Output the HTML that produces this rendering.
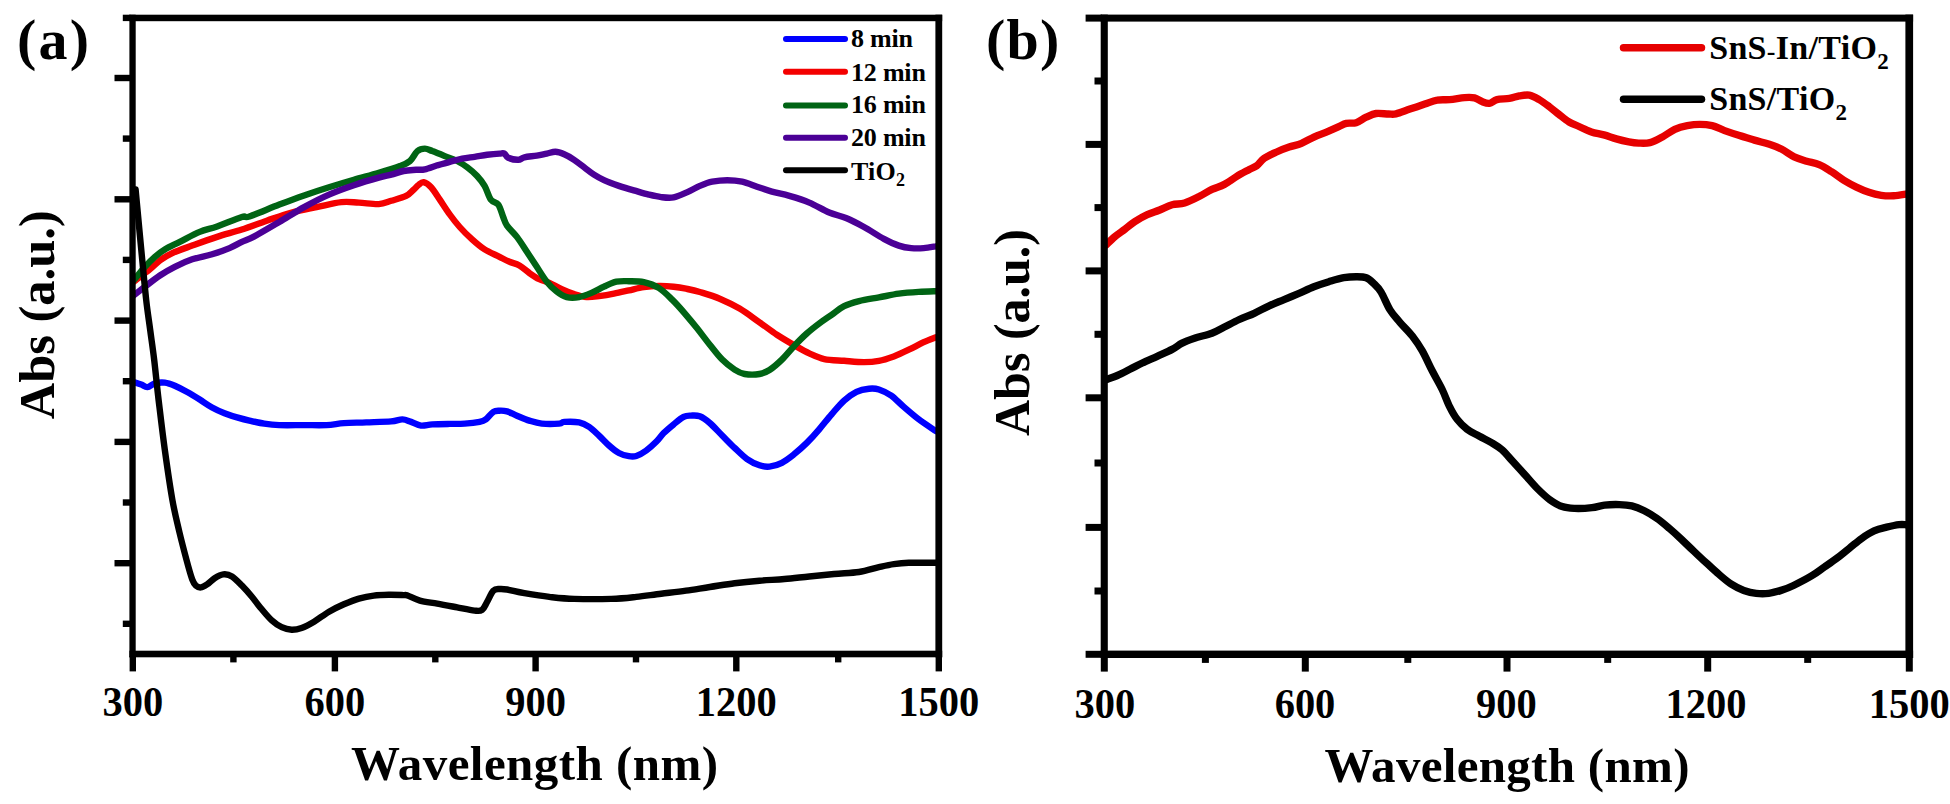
<!DOCTYPE html>
<html lang="en"><head><meta charset="utf-8"><title>Absorbance spectra</title>
<style>html,body{margin:0;padding:0;background:#fff;overflow:hidden}svg{display:block}text{font-family:"Liberation Serif","DejaVu Serif",serif;font-weight:bold;fill:#000}.c{fill:none;stroke-linecap:round;stroke-linejoin:round}</style></head><body>
<svg width="1950" height="804" viewBox="0 0 1950 804">
<rect width="1950" height="804" fill="#fff"/>
<path class="c" stroke="#0000ff" stroke-width="6.4" d="M133.7 382.1C134.9 382.5 138.9 383.8 141.2 384.6C143.5 385.4 145.1 387.3 147.4 387.1C149.7 386.9 152.0 384.1 154.9 383.3C157.8 382.6 161.5 382.2 164.8 382.6C168.1 383.0 171.1 384.2 174.8 385.8C178.5 387.4 183.0 389.7 187.2 392.0C191.3 394.3 195.5 396.9 199.7 399.5C203.8 402.1 208.0 405.2 212.1 407.5C216.2 409.8 220.3 411.6 224.5 413.2C228.7 414.8 232.8 416.2 237.0 417.4C241.2 418.6 244.8 419.6 249.4 420.6C254.0 421.6 259.3 422.9 264.3 423.6C269.3 424.4 272.7 424.9 279.3 425.1C285.9 425.4 296.2 425.1 304.1 425.1C312.0 425.1 319.9 425.4 326.5 425.1C333.1 424.8 337.3 423.6 343.9 423.1C350.5 422.7 358.4 422.7 366.3 422.4C374.2 422.1 385.2 421.9 391.2 421.4C397.2 420.9 399.1 419.3 402.4 419.4C405.7 419.5 408.0 420.9 411.1 421.9C414.2 422.9 417.5 425.2 421.0 425.6C424.5 426.0 427.5 424.7 432.3 424.4C437.1 424.1 444.4 424.0 449.8 423.9C455.2 423.8 459.7 423.9 464.7 423.6C469.7 423.3 476.1 422.6 479.6 421.9C483.1 421.2 483.5 421.1 485.8 419.4C488.1 417.7 491.0 413.3 493.3 411.9C495.6 410.4 497.2 410.8 499.5 410.7C501.8 410.6 504.1 410.6 507.0 411.4C509.9 412.2 513.2 414.2 516.9 415.7C520.6 417.2 525.2 419.3 529.4 420.6C533.5 421.9 536.8 423.1 541.8 423.6C546.8 424.1 555.5 423.9 559.2 423.6C562.9 423.3 560.9 422.1 564.2 421.9C567.5 421.7 575.0 421.6 579.1 422.4C583.2 423.2 585.8 424.7 589.1 426.9C592.4 429.1 595.7 432.5 599.0 435.6C602.3 438.7 605.7 442.6 609.0 445.5C612.3 448.4 615.6 451.2 618.9 453.0C622.2 454.8 626.0 455.7 628.9 456.2C631.8 456.7 633.4 456.9 636.3 456.0C639.2 455.1 643.0 452.9 646.3 450.5C649.6 448.1 653.3 444.7 656.2 441.8C659.1 438.9 660.8 436.0 663.7 433.1C666.6 430.2 670.3 427.1 673.6 424.4C676.9 421.7 680.7 418.4 683.6 416.9C686.5 415.4 688.3 415.7 691.0 415.6C693.7 415.5 696.7 415.1 699.8 416.3C702.9 417.5 706.1 419.8 709.8 423.0C713.5 426.2 718.1 431.4 722.2 435.5C726.3 439.6 730.5 444.0 734.6 447.9C738.8 451.8 743.0 456.2 747.1 459.1C751.2 462.0 755.8 464.1 759.5 465.3C763.2 466.6 765.8 467.0 769.5 466.6C773.2 466.2 777.8 464.9 781.9 462.8C786.0 460.7 790.1 457.4 794.3 454.1C798.4 450.8 802.6 447.0 806.8 442.9C810.9 438.8 815.1 434.1 819.2 429.3C823.3 424.5 827.5 419.1 831.6 414.3C835.8 409.5 840.0 404.3 844.1 400.6C848.2 396.9 852.4 393.9 856.5 391.9C860.6 389.9 865.3 389.1 869.0 388.7C872.7 388.3 875.2 388.3 878.9 389.5C882.6 390.7 887.1 392.8 891.3 395.7C895.4 398.6 899.2 403.0 903.8 406.9C908.4 410.8 913.3 415.2 918.7 419.3C924.1 423.4 933.1 429.2 936.0 431.2"/>
<path class="c" stroke="#f40000" stroke-width="6.4" d="M133.7 281.7C136.4 279.6 145.5 272.8 149.9 269.3C154.3 265.8 156.2 263.2 159.9 260.5C163.6 257.8 166.9 255.6 172.3 253.1C177.7 250.6 184.7 248.3 192.2 245.6C199.7 242.9 208.8 239.6 217.1 236.9C225.4 234.2 233.6 232.2 241.9 229.5C250.2 226.8 258.5 223.5 266.8 220.7C275.1 217.9 283.4 214.8 291.7 212.5C300.0 210.2 308.3 208.8 316.6 207.1C324.9 205.4 334.3 202.8 341.4 202.1C348.4 201.3 352.7 202.3 358.9 202.6C365.1 202.9 373.4 204.4 378.8 204.1C384.2 203.8 386.6 202.2 391.2 200.8C395.8 199.4 402.4 197.8 406.1 195.9C409.8 194.1 411.5 191.5 413.6 189.7C415.7 187.9 416.8 186.2 418.5 185.0C420.2 183.8 421.5 181.8 423.6 182.2C425.7 182.6 428.4 184.3 431.1 187.2C433.8 190.1 436.7 195.0 439.8 199.6C442.9 204.2 446.5 209.9 449.8 214.5C453.1 219.1 456.0 222.8 459.7 227.0C463.4 231.2 468.0 235.7 472.1 239.4C476.2 243.1 480.0 246.5 484.6 249.4C489.2 252.3 495.4 254.7 499.5 256.8C503.6 258.9 506.2 260.4 509.5 261.8C512.8 263.2 516.1 263.6 519.4 265.5C522.7 267.4 526.1 270.7 529.4 273.0C532.7 275.3 536.0 277.6 539.3 279.2C542.6 280.8 545.6 281.2 549.3 282.9C553.0 284.6 557.6 287.3 561.7 289.2C565.8 291.1 570.0 292.8 574.1 294.1C578.2 295.4 582.5 296.8 586.6 297.1C590.8 297.4 594.5 296.7 599.0 296.1C603.5 295.5 608.9 294.6 613.9 293.6C618.9 292.7 623.9 291.5 628.9 290.4C633.9 289.3 638.8 287.9 643.8 287.2C648.8 286.4 653.7 286.0 658.7 285.9C663.7 285.8 669.1 286.2 673.6 286.7C678.1 287.2 681.6 287.8 686.0 288.7C690.4 289.6 694.2 290.3 699.8 292.0C705.4 293.7 713.1 295.9 719.7 298.7C726.3 301.5 733.0 304.7 739.6 308.6C746.2 312.5 753.3 318.0 759.5 322.3C765.7 326.6 771.1 330.9 776.9 334.7C782.7 338.5 788.9 342.1 794.3 345.2C799.7 348.3 804.3 351.1 809.3 353.4C814.3 355.7 818.4 357.9 824.2 359.1C830.0 360.3 837.5 360.3 844.1 360.8C850.7 361.3 858.2 362.1 864.0 362.1C869.8 362.1 873.9 361.8 878.9 360.8C883.9 359.9 888.8 358.2 893.8 356.4C898.8 354.5 903.8 352.1 908.8 349.7C913.8 347.3 919.2 344.3 923.7 342.2C928.2 340.1 934.0 338.0 936.0 337.2"/>
<path class="c" stroke="#006414" stroke-width="6.4" d="M133.7 280.4C135.6 278.1 141.4 270.7 144.9 266.8C148.4 262.9 151.6 259.7 154.9 256.8C158.2 253.9 160.7 251.9 164.8 249.4C169.0 246.9 174.0 244.8 179.8 241.9C185.6 239.0 193.5 234.5 199.7 231.9C205.9 229.3 210.1 229.0 217.1 226.5C224.1 224.0 236.5 218.7 241.9 217.0C247.3 215.3 243.2 218.6 249.4 216.5C255.6 214.4 270.2 208.1 279.3 204.6C288.4 201.1 295.8 198.3 304.1 195.4C312.4 192.5 320.7 189.8 329.0 187.2C337.3 184.6 345.6 182.1 353.9 179.7C362.2 177.3 371.1 175.0 378.8 172.7C386.5 170.4 394.8 167.9 400.0 166.0C405.2 164.1 407.1 163.5 410.0 161.0C412.9 158.5 414.9 153.2 417.4 151.1C419.9 149.0 422.4 148.6 424.9 148.6C427.4 148.6 429.0 149.8 432.3 151.1C435.6 152.3 440.7 154.4 444.8 156.1C448.9 157.8 453.5 159.1 457.2 161.0C460.9 162.9 463.9 164.8 467.2 167.3C470.5 169.8 474.2 172.9 477.1 176.0C480.0 179.1 482.3 182.0 484.6 185.9C486.9 189.8 488.5 196.5 490.8 199.6C493.1 202.7 496.2 201.7 498.3 204.6C500.4 207.5 501.8 213.5 503.2 217.0C504.6 220.5 504.7 222.4 507.0 225.7C509.3 229.0 513.6 232.6 516.9 236.9C520.2 241.2 523.6 246.8 526.9 251.8C530.2 256.8 533.5 261.8 536.8 266.8C540.1 271.8 543.5 277.6 546.8 281.7C550.1 285.8 553.4 289.0 556.7 291.6C560.0 294.2 563.0 296.2 566.7 297.1C570.4 298.0 575.0 297.8 579.1 297.1C583.2 296.4 587.4 294.6 591.5 292.9C595.6 291.2 599.9 288.6 604.0 286.7C608.1 284.8 612.2 282.6 616.4 281.7C620.5 280.8 624.3 281.1 628.9 281.2C633.5 281.3 638.8 281.1 643.8 282.2C648.8 283.3 653.9 284.9 658.7 287.9C663.5 290.8 668.0 295.6 672.4 299.9C676.8 304.2 680.8 308.8 684.9 313.6C689.0 318.4 693.1 323.3 697.3 328.5C701.4 333.7 705.6 339.5 709.8 344.7C713.9 349.9 718.1 355.5 722.2 359.6C726.3 363.8 730.9 367.2 734.6 369.6C738.3 372.0 740.5 373.3 744.6 374.0C748.8 374.7 755.4 374.7 759.5 374.0C763.6 373.3 765.8 372.4 769.5 370.0C773.2 367.6 777.8 363.6 781.9 359.6C786.0 355.6 790.1 350.2 794.3 345.9C798.4 341.5 802.6 337.2 806.8 333.5C810.9 329.8 815.1 326.6 819.2 323.5C823.3 320.4 827.5 317.7 831.6 314.8C835.8 311.9 839.5 308.4 844.1 306.1C848.7 303.8 853.2 302.6 859.0 301.1C864.8 299.7 872.3 298.6 878.9 297.4C885.5 296.2 892.2 294.6 898.8 293.7C905.4 292.8 912.5 292.3 918.7 291.9C924.9 291.5 933.1 291.3 936.0 291.2"/>
<path class="c" stroke="#4b0096" stroke-width="6.4" d="M133.7 295.4C135.6 293.9 140.5 290.0 144.9 286.7C149.3 283.4 154.9 278.8 159.9 275.5C164.9 272.2 169.4 269.5 174.8 266.8C180.2 264.1 186.0 261.4 192.2 259.3C198.4 257.2 205.9 256.2 212.1 254.3C218.3 252.4 224.5 250.2 229.5 248.1C234.5 246.0 237.8 243.8 241.9 241.9C246.1 240.0 248.2 239.7 254.4 236.4C260.6 233.1 271.0 226.9 279.3 222.0C287.6 217.1 295.8 211.7 304.1 207.1C312.4 202.5 320.7 198.2 329.0 194.6C337.3 190.9 345.6 188.0 353.9 185.2C362.2 182.4 372.6 179.4 378.8 177.7C385.0 175.9 387.1 175.8 391.2 174.7C395.3 173.6 399.5 171.8 403.6 171.0C407.8 170.2 412.6 170.1 416.1 169.8C419.7 169.5 421.4 170.1 424.9 169.3C428.4 168.6 433.1 166.6 437.3 165.3C441.5 164.1 445.7 162.9 449.8 161.8C453.9 160.7 458.1 159.4 462.2 158.6C466.3 157.8 470.5 157.4 474.6 156.8C478.8 156.2 483.0 155.3 487.1 154.8C491.2 154.3 496.6 153.8 499.5 153.6C502.4 153.4 503.1 152.9 504.5 153.6C505.9 154.3 505.9 156.8 508.2 157.8C510.5 158.8 515.5 159.9 518.2 159.8C520.9 159.7 521.3 158.0 524.4 157.3C527.5 156.6 533.1 156.2 536.8 155.6C540.5 155.0 543.7 154.2 546.8 153.6C549.9 153.0 552.6 151.7 555.5 151.8C558.4 151.9 561.1 153.0 564.2 154.3C567.3 155.6 570.8 157.6 574.1 159.8C577.4 162.0 580.8 164.8 584.1 167.3C587.4 169.8 590.7 172.5 594.0 174.7C597.3 176.8 599.9 178.3 604.0 180.2C608.1 182.1 613.9 184.2 618.9 185.9C623.9 187.6 628.8 189.0 633.8 190.4C638.8 191.8 644.2 193.5 648.8 194.6C653.4 195.7 657.1 196.6 661.2 197.1C665.3 197.6 669.2 198.2 673.6 197.4C678.0 196.6 683.0 194.0 687.4 192.1C691.8 190.2 695.7 187.6 699.8 185.9C703.9 184.2 707.6 182.6 712.2 181.7C716.8 180.8 722.2 180.2 727.2 180.2C732.2 180.2 737.1 180.6 742.1 181.7C747.1 182.8 752.0 185.0 757.0 186.7C762.0 188.3 766.5 190.1 771.9 191.6C777.3 193.1 783.2 194.1 789.4 195.9C795.6 197.7 802.7 199.8 809.3 202.6C815.9 205.4 823.0 209.9 829.2 212.5C835.4 215.1 840.8 215.9 846.6 218.3C852.4 220.7 857.8 223.6 864.0 227.0C870.2 230.4 878.1 235.8 883.9 238.9C889.7 242.0 894.2 244.1 898.8 245.6C903.3 247.1 907.1 247.7 911.2 248.1C915.4 248.5 919.6 248.4 923.7 248.1C927.8 247.8 934.0 246.6 936.0 246.3"/>
<path class="c" stroke="#000" stroke-width="6.4" d="M135.6 189.5C136.7 201.2 140.4 241.1 142.2 259.5C144.0 277.9 144.9 288.2 146.2 300.0C147.5 311.8 148.9 320.0 150.2 330.0C151.5 340.0 152.8 348.3 154.2 360.0C155.6 371.7 156.8 385.0 158.6 400.0C160.4 415.0 162.5 433.2 164.8 449.8C167.1 466.4 169.9 485.8 172.3 499.5C174.7 513.2 177.1 522.1 179.4 532.1C181.8 542.1 184.3 551.6 186.4 559.5C188.5 567.4 190.6 575.0 192.2 579.4C193.8 583.8 194.4 584.3 195.9 585.6C197.4 586.9 199.0 587.6 200.9 587.4C202.8 587.2 204.8 585.9 207.1 584.4C209.4 582.9 211.9 579.9 214.6 578.2C217.3 576.5 220.4 574.7 223.3 574.4C226.2 574.1 228.9 574.5 232.0 576.4C235.1 578.3 238.6 582.2 241.9 585.6C245.2 589.0 248.6 592.8 251.9 596.8C255.2 600.8 258.5 605.4 261.8 609.3C265.1 613.2 268.5 617.4 271.8 620.4C275.1 623.4 278.4 625.7 281.7 627.2C285.0 628.8 288.4 629.6 291.7 629.7C295.0 629.8 297.9 629.2 301.6 627.9C305.3 626.6 309.5 624.4 314.1 621.7C318.7 619.0 324.0 614.6 329.0 611.7C334.0 608.8 338.9 606.5 343.9 604.3C348.9 602.1 353.9 600.0 358.9 598.6C363.9 597.2 368.8 596.2 373.8 595.6C378.8 595.0 383.7 594.9 388.7 594.8C393.7 594.7 400.5 595.0 403.6 595.1C406.7 595.2 404.8 594.6 407.5 595.5C410.2 596.4 414.9 599.2 419.9 600.6C424.9 602.0 431.1 602.5 437.3 603.6C443.5 604.7 451.0 606.2 457.2 607.4C463.4 608.6 470.5 610.2 474.6 610.6C478.8 611.0 480.0 611.4 482.1 609.9C484.2 608.4 485.2 605.1 487.1 601.9C489.0 598.7 491.2 592.9 493.3 590.7C495.4 588.6 497.2 589.2 499.5 589.0C501.8 588.8 502.9 588.8 507.0 589.5C511.1 590.2 517.4 592.0 524.4 593.2C531.4 594.4 541.0 596.0 549.3 596.9C557.6 597.8 563.8 598.6 574.1 598.9C584.5 599.2 601.0 599.2 611.4 598.9C621.8 598.6 628.0 597.8 636.3 596.9C644.6 596.0 652.9 594.7 661.2 593.7C669.5 592.7 677.9 591.8 686.0 590.7C694.1 589.6 701.7 588.2 709.8 587.0C717.9 585.8 726.3 584.2 734.6 583.2C742.9 582.2 751.2 581.4 759.5 580.7C767.8 580.0 776.1 579.7 784.4 579.0C792.7 578.3 801.0 577.3 809.3 576.5C817.6 575.7 825.8 574.8 834.1 574.0C842.4 573.2 851.5 573.1 859.0 572.0C866.5 570.9 873.1 568.4 878.9 567.1C884.7 565.8 888.8 564.8 893.8 564.1C898.8 563.4 901.8 563.0 908.8 562.8C915.8 562.6 931.5 562.8 936.0 562.8"/>
<g fill="#000">
<rect x="129.4" y="14.7" width="6.3" height="642.6"/>
<rect x="935.4" y="14.7" width="6.8" height="642.6"/>
<rect x="129.4" y="14.7" width="812.8" height="6.5"/>
<rect x="129.4" y="650.7" width="812.8" height="6.6"/>
<rect x="114.5" y="74.8" width="15.9" height="6.4"/>
<rect x="114.5" y="196.1" width="15.9" height="6.4"/>
<rect x="114.5" y="317.4" width="15.9" height="6.4"/>
<rect x="114.5" y="438.7" width="15.9" height="6.4"/>
<rect x="114.5" y="560.0" width="15.9" height="6.4"/>
<rect x="122.8" y="14.7" width="7.6" height="6.4"/>
<rect x="122.8" y="135.4" width="7.6" height="6.4"/>
<rect x="122.8" y="256.7" width="7.6" height="6.4"/>
<rect x="122.8" y="378.0" width="7.6" height="6.4"/>
<rect x="122.8" y="499.3" width="7.6" height="6.4"/>
<rect x="122.8" y="620.6" width="7.6" height="6.4"/>
<rect x="129.6" y="656.3" width="6.4" height="15.1"/>
<rect x="331.7" y="656.3" width="6.4" height="15.1"/>
<rect x="532.4" y="656.3" width="6.4" height="15.1"/>
<rect x="733.1" y="656.3" width="6.4" height="15.1"/>
<rect x="935.6" y="656.3" width="6.4" height="15.1"/>
<rect x="230.2" y="656.3" width="6.4" height="6.1"/>
<rect x="432.1" y="656.3" width="6.4" height="6.1"/>
<rect x="632.8" y="656.3" width="6.4" height="6.1"/>
<rect x="835.0" y="656.3" width="6.4" height="6.1"/>
</g>
<text transform="translate(132.8 716.0) scale(0.955 1)" font-size="42.4" text-anchor="middle">300</text>
<text transform="translate(334.9 716.0) scale(0.955 1)" font-size="42.4" text-anchor="middle">600</text>
<text transform="translate(535.6 716.0) scale(0.955 1)" font-size="42.4" text-anchor="middle">900</text>
<text transform="translate(736.3 716.0) scale(0.955 1)" font-size="42.4" text-anchor="middle">1200</text>
<text transform="translate(938.8 716.0) scale(0.955 1)" font-size="42.4" text-anchor="middle">1500</text>
<text x="534.5" y="780.2" font-size="49.0" text-anchor="middle" textLength="367.0" lengthAdjust="spacing">Wavelength (nm)</text>
<text transform="translate(53.5 314.8) rotate(-90)" font-size="51.0" text-anchor="middle" textLength="209.0" lengthAdjust="spacingAndGlyphs">Abs (a.u.)</text>
<text x="17.0" y="58.8" font-size="58.0" letter-spacing="2.2">(a)</text>
<path class="c" stroke="#0000ff" stroke-width="6.0" d="M786.0 38.9H845.0"/>
<text x="851.0" y="46.8" font-size="26.0" letter-spacing="-0.20">8 min</text>
<path class="c" stroke="#f40000" stroke-width="6.0" d="M786.0 71.8H845.0"/>
<text x="851.0" y="80.7" font-size="26.0" letter-spacing="-0.20">12 min</text>
<path class="c" stroke="#006414" stroke-width="6.0" d="M786.0 105.6H845.0"/>
<text x="851.0" y="113.3" font-size="26.0" letter-spacing="-0.20">16 min</text>
<path class="c" stroke="#4b0096" stroke-width="6.0" d="M786.0 137.8H845.0"/>
<text x="851.0" y="145.8" font-size="26.0" letter-spacing="-0.20">20 min</text>
<path class="c" stroke="#000" stroke-width="6.0" d="M786.0 170.3H845.0"/>
<text x="851.0" y="179.7" font-size="26.0" letter-spacing="0.20">TiO<tspan font-size="18" dy="6.4">2</tspan></text>
<path class="c" stroke="#e60000" stroke-width="7.4" d="M1105.0 245.8C1106.7 244.3 1111.6 239.4 1114.9 236.6C1118.2 233.8 1121.6 231.7 1124.9 229.2C1128.2 226.7 1131.1 224.1 1134.8 221.7C1138.5 219.3 1143.1 216.6 1147.3 214.7C1151.5 212.8 1155.6 211.7 1159.7 210.0C1163.8 208.3 1167.9 206.0 1172.1 204.8C1176.2 203.6 1180.0 204.4 1184.6 203.0C1189.2 201.6 1195.0 198.6 1199.5 196.3C1204.0 194.0 1207.8 191.4 1211.9 189.4C1216.1 187.4 1220.2 186.6 1224.4 184.4C1228.6 182.2 1232.7 178.9 1236.8 176.4C1240.9 173.9 1246.0 171.3 1249.3 169.5C1252.6 167.7 1254.2 167.6 1256.7 165.7C1259.2 163.8 1260.9 160.6 1264.2 158.3C1267.5 156.0 1272.4 153.9 1276.6 152.0C1280.8 150.1 1284.9 148.5 1289.1 147.1C1293.2 145.7 1297.4 145.0 1301.5 143.3C1305.6 141.6 1309.8 139.0 1313.9 137.1C1318.1 135.2 1322.2 133.8 1326.4 132.1C1330.6 130.4 1335.5 128.2 1338.8 126.7C1342.1 125.2 1343.4 124.1 1346.3 123.4C1349.2 122.7 1352.9 123.7 1356.2 122.7C1359.5 121.7 1362.9 118.7 1366.2 117.2C1369.5 115.7 1372.4 114.0 1376.1 113.5C1379.8 113.0 1385.3 114.0 1388.6 114.0C1391.9 114.0 1392.5 114.6 1396.0 113.8C1399.5 113.0 1405.1 110.7 1409.9 109.1C1414.7 107.5 1420.2 105.6 1424.8 104.1C1429.3 102.6 1433.0 100.8 1437.2 100.1C1441.4 99.3 1445.1 100.0 1449.7 99.6C1454.3 99.2 1460.5 97.9 1464.6 97.6C1468.7 97.3 1471.6 97.2 1474.5 97.9C1477.4 98.6 1479.5 100.7 1482.0 101.6C1484.5 102.5 1487.0 103.6 1489.5 103.3C1492.0 103.0 1493.6 100.4 1496.9 99.6C1500.2 98.8 1505.7 99.0 1509.4 98.4C1513.1 97.8 1516.0 96.5 1519.3 95.9C1522.6 95.4 1526.0 94.5 1529.3 95.1C1532.6 95.7 1535.9 97.7 1539.2 99.6C1542.5 101.5 1545.9 104.1 1549.2 106.6C1552.5 109.1 1555.8 111.9 1559.1 114.5C1562.4 117.1 1565.8 120.0 1569.1 122.0C1572.4 124.0 1575.3 124.8 1579.0 126.5C1582.7 128.2 1587.2 130.5 1591.4 131.9C1595.6 133.3 1599.8 133.7 1603.9 134.9C1608.1 136.1 1612.2 137.7 1616.3 138.9C1620.4 140.1 1625.1 141.2 1628.8 141.9C1632.5 142.6 1635.2 143.0 1638.7 143.1C1642.2 143.2 1646.0 143.6 1650.0 142.6C1654.0 141.6 1658.3 139.1 1662.4 136.9C1666.5 134.7 1670.7 131.3 1674.8 129.4C1678.9 127.5 1683.1 126.5 1687.3 125.7C1691.5 124.9 1695.6 124.4 1699.7 124.4C1703.8 124.4 1707.9 124.7 1712.1 125.7C1716.2 126.7 1720.0 128.9 1724.6 130.6C1729.2 132.2 1734.5 134.0 1739.5 135.6C1744.5 137.2 1749.4 138.6 1754.4 140.1C1759.4 141.6 1764.8 142.8 1769.4 144.3C1774.0 145.8 1777.7 147.2 1781.8 149.3C1785.9 151.4 1790.0 154.8 1794.2 156.8C1798.4 158.8 1802.6 159.9 1806.7 161.2C1810.8 162.5 1815.0 162.9 1819.1 164.7C1823.2 166.4 1827.3 169.1 1831.5 171.7C1835.7 174.3 1839.8 177.8 1844.0 180.4C1848.2 183.0 1852.2 185.1 1856.4 187.1C1860.6 189.1 1864.8 190.9 1868.9 192.3C1873.1 193.7 1877.2 194.7 1881.3 195.3C1885.4 195.9 1889.6 196.0 1893.7 195.8C1897.8 195.6 1904.0 194.4 1906.0 194.1"/>
<path class="c" stroke="#000" stroke-width="7.4" d="M1105.0 380.0C1105.4 379.9 1105.4 379.9 1107.5 379.2C1109.6 378.4 1113.7 377.1 1117.4 375.5C1121.1 373.9 1125.8 371.4 1129.9 369.3C1134.1 367.2 1137.8 365.2 1142.3 363.0C1146.8 360.8 1152.2 358.6 1157.2 356.3C1162.2 354.0 1167.9 351.6 1172.1 349.4C1176.2 347.2 1178.4 345.0 1182.1 343.1C1185.8 341.2 1189.5 339.9 1194.5 338.2C1199.5 336.5 1206.9 335.1 1211.9 333.2C1216.9 331.3 1219.8 329.3 1224.4 327.0C1229.0 324.7 1234.3 321.8 1239.3 319.5C1244.3 317.2 1249.2 315.6 1254.2 313.3C1259.2 311.0 1264.2 308.1 1269.2 305.8C1274.2 303.5 1279.1 301.7 1284.1 299.6C1289.1 297.5 1294.0 295.5 1299.0 293.4C1304.0 291.2 1308.9 288.6 1313.9 286.7C1318.9 284.8 1323.9 283.2 1328.9 281.7C1333.9 280.2 1339.2 278.5 1343.8 277.7C1348.3 276.9 1352.5 276.7 1356.2 276.7C1359.9 276.7 1363.3 276.6 1366.2 277.7C1369.1 278.8 1371.1 281.0 1373.6 283.4C1376.1 285.8 1378.4 287.7 1381.1 292.1C1383.8 296.5 1386.9 304.9 1390.0 309.9C1393.1 314.9 1396.2 317.9 1399.9 322.3C1403.6 326.7 1408.6 331.2 1412.3 336.0C1416.0 340.8 1419.0 345.1 1422.3 350.9C1425.6 356.7 1428.9 364.4 1432.2 370.8C1435.5 377.2 1439.3 383.5 1442.2 389.5C1445.1 395.5 1447.2 401.9 1449.7 406.9C1452.2 411.9 1454.2 415.6 1457.1 419.3C1460.0 423.0 1463.4 426.5 1467.1 429.3C1470.8 432.1 1475.4 433.9 1479.5 436.2C1483.6 438.5 1488.2 440.6 1491.9 442.9C1495.7 445.2 1498.6 446.8 1502.0 449.8C1505.4 452.8 1508.6 456.9 1512.4 461.1C1516.2 465.3 1520.8 470.2 1524.9 474.8C1529.1 479.4 1533.2 484.4 1537.3 488.5C1541.4 492.6 1545.6 496.7 1549.8 499.7C1554.0 502.7 1558.1 505.2 1562.2 506.6C1566.3 508.1 1569.6 508.2 1574.6 508.4C1579.6 508.6 1587.0 508.2 1592.0 507.6C1597.0 507.1 1599.9 505.6 1604.5 505.1C1609.1 504.6 1614.9 504.5 1619.4 504.6C1624.0 504.7 1627.7 504.9 1631.8 505.9C1635.9 506.9 1640.1 508.7 1644.3 510.8C1648.5 512.9 1652.5 515.4 1656.7 518.3C1660.9 521.2 1665.1 524.8 1669.2 528.3C1673.3 531.8 1677.5 535.6 1681.6 539.5C1685.7 543.4 1689.8 547.5 1694.0 551.4C1698.2 555.3 1702.3 559.3 1706.5 563.1C1710.7 566.9 1714.8 570.8 1718.9 574.3C1723.0 577.8 1727.2 581.5 1731.3 584.2C1735.4 586.9 1739.6 588.9 1743.8 590.4C1748.0 591.9 1752.0 592.9 1756.2 593.4C1760.4 593.9 1764.6 593.9 1768.7 593.4C1772.8 592.9 1777.0 591.7 1781.1 590.4C1785.2 589.1 1788.4 588.0 1793.5 585.5C1798.6 583.0 1806.8 578.8 1811.9 575.7C1817.1 572.6 1820.2 569.9 1824.4 567.0C1828.6 564.1 1832.7 561.4 1836.8 558.3C1840.9 555.2 1845.1 551.6 1849.3 548.3C1853.5 545.0 1857.6 541.3 1861.7 538.4C1865.8 535.5 1869.9 532.8 1874.1 530.9C1878.2 529.0 1882.4 528.2 1886.6 527.2C1890.8 526.2 1895.8 525.1 1899.0 524.7C1902.2 524.3 1904.8 524.7 1906.0 524.7"/>
<g fill="#000">
<rect x="1100.7" y="14.6" width="7.1" height="643.4"/>
<rect x="1905.4" y="14.6" width="7.7" height="643.4"/>
<rect x="1100.7" y="14.6" width="812.4" height="7.0"/>
<rect x="1100.7" y="650.6" width="812.4" height="7.4"/>
<rect x="1085.6" y="14.6" width="16.1" height="7.0"/>
<rect x="1085.6" y="140.9" width="16.1" height="7.0"/>
<rect x="1085.6" y="267.4" width="16.1" height="7.0"/>
<rect x="1085.6" y="394.3" width="16.1" height="7.0"/>
<rect x="1085.6" y="523.9" width="16.1" height="7.0"/>
<rect x="1085.6" y="650.8" width="16.1" height="7.0"/>
<rect x="1094.5" y="77.5" width="7.2" height="7.0"/>
<rect x="1094.5" y="204.1" width="7.2" height="7.0"/>
<rect x="1094.5" y="330.8" width="7.2" height="7.0"/>
<rect x="1094.5" y="459.5" width="7.2" height="7.0"/>
<rect x="1094.5" y="587.5" width="7.2" height="7.0"/>
<rect x="1100.8" y="657.0" width="7.0" height="14.6"/>
<rect x="1301.8" y="657.0" width="7.0" height="14.6"/>
<rect x="1503.5" y="657.0" width="7.0" height="14.6"/>
<rect x="1704.2" y="657.0" width="7.0" height="14.6"/>
<rect x="1905.8" y="657.0" width="7.0" height="14.6"/>
<rect x="1201.9" y="657.0" width="7.0" height="5.9"/>
<rect x="1404.3" y="657.0" width="7.0" height="5.9"/>
<rect x="1604.2" y="657.0" width="7.0" height="5.9"/>
<rect x="1804.2" y="657.0" width="7.0" height="5.9"/>
</g>
<text transform="translate(1104.8 718.0) scale(0.955 1)" font-size="42.4" text-anchor="middle">300</text>
<text transform="translate(1305.0 718.0) scale(0.955 1)" font-size="42.4" text-anchor="middle">600</text>
<text transform="translate(1506.3 718.0) scale(0.955 1)" font-size="42.4" text-anchor="middle">900</text>
<text transform="translate(1706.0 718.0) scale(0.955 1)" font-size="42.4" text-anchor="middle">1200</text>
<text transform="translate(1909.3 718.0) scale(0.955 1)" font-size="42.4" text-anchor="middle">1500</text>
<text x="1507.0" y="781.5" font-size="49.0" text-anchor="middle" textLength="365.0" lengthAdjust="spacing">Wavelength (nm)</text>
<text transform="translate(1028.7 332.5) rotate(-90)" font-size="50.5" text-anchor="middle" textLength="207.0" lengthAdjust="spacingAndGlyphs">Abs (a.u.)</text>
<text x="986.0" y="58.8" font-size="58.0" letter-spacing="1.2">(b)</text>
<path class="c" stroke="#e60000" stroke-width="7.5" d="M1623.5 47.8H1701.5"/>
<text x="1709.2" y="58.5" font-size="34.0" letter-spacing="0.30">SnS<tspan font-size="26" dy="1.5">-</tspan><tspan dy="-1.5">In/TiO</tspan><tspan font-size="23" dy="10">2</tspan></text>
<path class="c" stroke="#000" stroke-width="7.5" d="M1623.5 99.2H1701.5"/>
<text x="1709.2" y="109.9" font-size="34.0" letter-spacing="0.30">SnS/TiO<tspan font-size="23" dy="10">2</tspan></text>
</svg></body></html>
